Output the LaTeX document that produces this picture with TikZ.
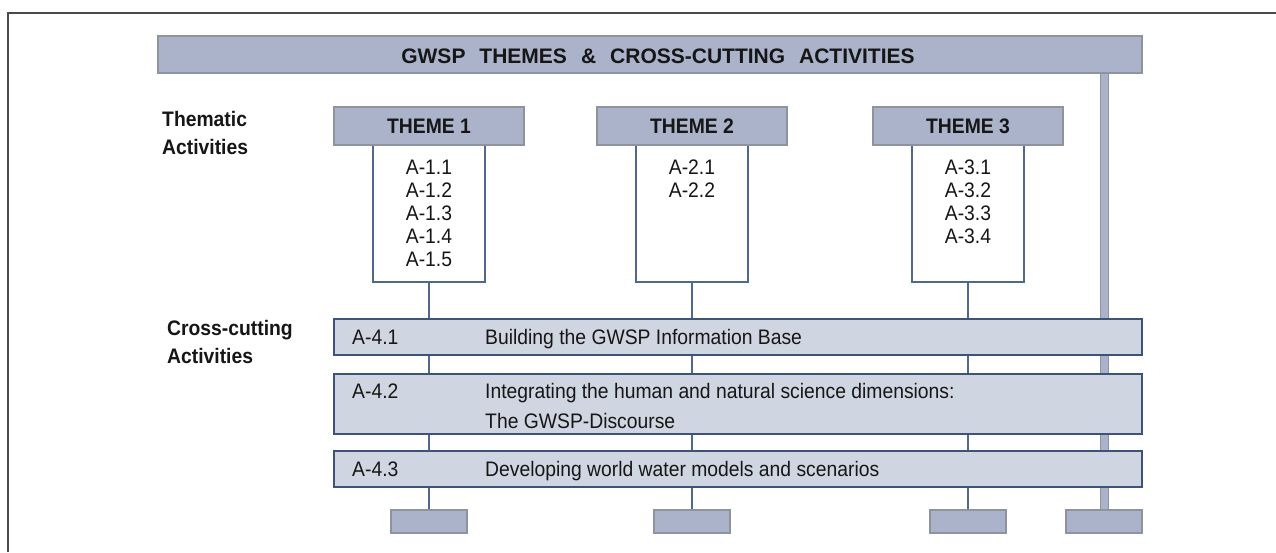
\documentclass[tikz,border=0pt]{standalone}
\usepackage{fontspec}
\setmainfont{Liberation Sans}[FakeStretch=0.92]
\newfontfamily\titlefont{Liberation Sans}
\definecolor{hdrfill}{HTML}{AAB3C9}
\definecolor{hdrdraw}{HTML}{8E949E}
\definecolor{ccfill}{HTML}{D0D6E1}
\definecolor{ccdraw}{HTML}{3D5478}
\definecolor{linecol}{HTML}{52688B}
\definecolor{txt}{HTML}{161616}
\definecolor{framecol}{HTML}{4A4A4A}
\tikzset{
  hdr/.style={draw=hdrdraw, fill=hdrfill, line width=1.2pt, minimum width=190pt, minimum height=38pt, inner sep=0pt, text=txt, font=\bfseries\fontsize{21}{23}\selectfont},
  bodybox/.style={draw=linecol, fill=white, line width=1.2pt, minimum width=112pt, minimum height=137pt, inner sep=0pt},
  item/.style={anchor=base, inner sep=0pt, text=txt, font=\fontsize{21}{23}\selectfont},
  ccbox/.style={draw=ccdraw, fill=ccfill, line width=1.4pt, minimum width=808pt, inner sep=0pt},
  cctext/.style={anchor=base west, inner sep=0pt, text=txt, font=\fontsize{21}{23}\selectfont},
  lbl/.style={anchor=base west, inner sep=0pt, text=txt, font=\bfseries\fontsize{21}{23}\selectfont},
  conn/.style={draw=linecol, line width=1.2pt},
  botbox/.style={draw=hdrdraw, fill=hdrfill, line width=1.2pt, minimum width=76pt, minimum height=23pt, inner sep=0pt},
}
\begin{document}
\begin{tikzpicture}[x=1pt,y=-1pt]
\useasboundingbox (0,0) rectangle (1276,552);
\fill[white] (0,0) rectangle (1276,552);
% frame
\coordinate (fbl) at (8,552);
\coordinate (ftl) at (8,13);
\coordinate (ftr) at (1276,13);
\draw[framecol, line width=1.5pt] (fbl) -- (ftl) -- (ftr);
% title bar
\node[draw=hdrdraw, fill=hdrfill, line width=1.2pt, minimum width=984pt, minimum height=37pt, inner sep=0pt] (title) at (650,54.5) {};
\node[anchor=base, inner sep=0pt, text=txt, font=\titlefont\bfseries\fontsize{21}{23}\selectfont] (titletext) at (658,63)
  {GWSP\hspace{14pt}THEMES\hspace{14pt}\&\hspace{14pt}CROSS-CUTTING\hspace{14pt}ACTIVITIES};
% vertical bar
\node[draw=hdrdraw, fill=hdrfill, line width=1pt, minimum width=8pt, minimum height=437pt, inner sep=0pt] (bar) at (1104,291.5) {};
% labels
\node[lbl] (thm1) at (162,126) {Thematic};
\node[lbl] (thm2) at (162,154) {Activities};
\node[lbl] (cc1l) at (167,335) {Cross-cutting};
\node[lbl] (cc2l) at (167,363) {Activities};
% theme bodies
\node[bodybox] (body1) at (429,213.5) {};
\node[bodybox] (body2) at (692,213.5) {};
\node[bodybox] (body3) at (968,213.5) {};
% headers
\node[hdr] (hdr1) at (429,126) {THEME 1};
\node[hdr] (hdr2) at (692,126) {THEME 2};
\node[hdr] (hdr3) at (968,126) {THEME 3};
% items
\foreach \k in {1,...,5} { \node[item] (i1\k) at (429,{174+23*(\k-1)}) {A-1.\k}; }
\foreach \k in {1,2} { \node[item] (i2\k) at (692,{174+23*(\k-1)}) {A-2.\k}; }
\foreach \k in {1,...,4} { \node[item] (i3\k) at (968,{174+23*(\k-1)}) {A-3.\k}; }
% cross-cutting boxes
\node[ccbox, minimum height=36pt] (cc1) at (738,337) {};
\node[ccbox, minimum height=60pt] (cc2) at (738,404) {};
\node[ccbox, minimum height=36pt] (cc3) at (738,469) {};
\node[cctext] (c1a) at (352,344) {A-4.1};
\node[cctext] (c1b) at (485,344) {Building the GWSP Information Base};
\node[cctext] (c2a) at (352,398) {A-4.2};
\node[cctext] (c2b) at (485,398) {Integrating the human and natural science dimensions:};
\node[cctext] (c2c) at (485,428) {The GWSP-Discourse};
\node[cctext] (c3a) at (352,476) {A-4.3};
\node[cctext] (c3b) at (485,476) {Developing world water models and scenarios};
% bottom boxes
\node[botbox] (bot1) at (429,521.5) {};
\node[botbox] (bot2) at (692,521.5) {};
\node[botbox] (bot3) at (968,521.5) {};
\node[botbox] (bot4) at (1104,521.5) {};
% connectors
\foreach \b in {1,2,3} {
  \draw[conn] (body\b.south) -- (body\b.south |- cc1.north);
  \draw[conn] (cc1.south -| body\b) -- (cc2.north -| body\b);
  \draw[conn] (cc2.south -| body\b) -- (cc3.north -| body\b);
  \draw[conn] (cc3.south -| body\b) -- (bot\b.north);
}
\end{tikzpicture}
\end{document}
